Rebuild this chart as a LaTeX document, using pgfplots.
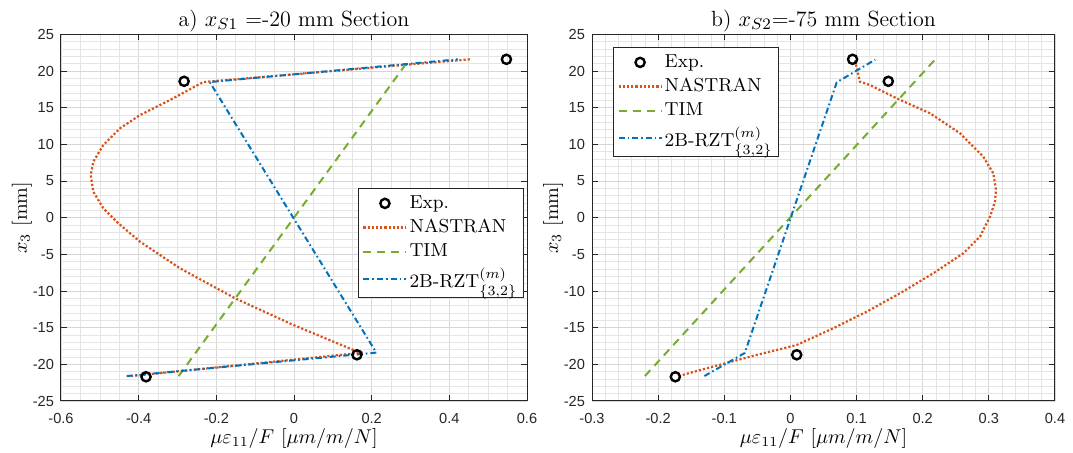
\documentclass[border=0pt]{standalone}
\usepackage{fontspec}
\usepackage{pgfplots}
\pgfplotsset{compat=1.18}
\newfontfamily\ticksf{Liberation Sans}
\definecolor{mblue}{rgb}{0,0.447,0.741}
\definecolor{morange}{rgb}{0.85,0.325,0.098}
\definecolor{mgreen}{rgb}{0.466,0.674,0.188}
\definecolor{axgray}{rgb}{0.15,0.15,0.15}
\pgfplotsset{
  mystyle/.style={
    scale only axis, height=183.3pt,
    ymin=-25, ymax=25, ytick={-25,-20,-15,-10,-5,0,5,10,15,20,25},
    minor y tick num=4,
    grid=both,
    major grid style={line width=0.4pt, color=black!16},
    minor grid style={line width=0.3pt, color=black!10},
    axis line style={axgray, line width=0.5pt},
    tick style={axgray, line width=0.5pt},
    major tick length=3pt, minor tick length=0pt,
    tick align=inside,
    tick label style={font=\fontsize{7.3}{8}\ticksf, text=axgray},
    xticklabel style={yshift=-2.5pt},
    /pgf/number format/assume math mode=true,
    /pgf/number format/fixed,
    every axis title/.style={font=\fontsize{11}{13}\selectfont, at={(axis description cs:0.5,1)}, anchor=base, yshift=4pt},
    label style={font=\fontsize{10}{12}\selectfont},
    every axis x label/.style={at={(axis description cs:0.5,0)}, anchor=base, yshift=-21.5pt},
    xlabel={$\mu\varepsilon_{11}/F\ [\mu m/m/N]$},
    ylabel={$x_3$ [mm]},
    legend cell align=left,
    legend style={draw=axgray, line width=0.5pt, font=\fontsize{9.4}{11}\selectfont,
      inner xsep=2pt, inner ysep=1.5pt, row sep=0pt, nodes={inner xsep=1pt}},
  },
  nas/.style={color=morange, line width=1.1pt, dash pattern=on 1.1pt off 1pt,
    legend image code/.code={\draw[##1, color=morange] (0pt,0pt) -- (21.5pt,0pt);}},
  tim/.style={color=mgreen, line width=1pt, dash pattern=on 4pt off 3pt,
    legend image code/.code={\draw[##1] (0pt,0pt) -- (21.5pt,0pt);}},
  rzt/.style={color=mblue, line width=1pt, dash pattern=on 3pt off 1.5pt on 0.8pt off 1.5pt,
    legend image code/.code={\draw[##1] (0pt,0pt) -- (21.5pt,0pt);}},
  expm/.style={only marks, mark=o, mark size=2.3pt, black, line width=1.2pt,
    legend image code/.code={\draw[##1] plot coordinates {(10.75pt,0pt)};}},
}
\begin{document}
\begin{tikzpicture}
\useasboundingbox (0,0) rectangle (536.5pt,226.5pt);
\begin{axis}[mystyle, at={(30.5pt,26pt)}, anchor=south west, width=233pt,
  xmin=-0.6, xmax=0.6, xtick={-0.6,-0.4,-0.2,0,0.2,0.4,0.6}, minor x tick num=3,
  title={a) $x_{S1}$ =-20 mm Section},
  ylabel style={at={(axis description cs:-0.0837,0.5)}, anchor=center},
  legend style={at={(axis description cs:0.637,0.581)}, anchor=north west}]
\addplot[expm] coordinates {(0.547,21.6) (-0.283,18.6) (0.162,-18.7) (-0.381,-21.7)};
\addlegendentry{Exp.}
\addplot[nas] coordinates {
(-0.42,-21.6) (0.1785,-18.4) (0.1528,-18.04) (-0.0017,-14.63) (-0.1519,-10.99)
(-0.2936,-6.9) (-0.3966,-3.27) (-0.4524,-0.76) (-0.491,1.28) (-0.5168,3.55)
(-0.5235,5.82) (-0.5168,7.64) (-0.491,9.91) (-0.448,12.19) (-0.3966,14.0)
(-0.3193,16.05) (-0.2335,18.5) (0.453,21.6)};
\addlegendentry{NASTRAN}
\addplot[tim] coordinates {(-0.297,-21.6) (0.297,21.6)};
\addlegendentry{TIM}
\addplot[rzt] coordinates {(-0.431,-21.6) (0.212,-18.4) (-0.217,18.5) (0.422,21.6)};
\addlegendentry{2B-RZT$^{(m)}_{\{3,2\}}$}
\end{axis}
\begin{axis}[mystyle, at={(296pt,26pt)}, anchor=south west, width=231.5pt,
  xmin=-0.3, xmax=0.4, xtick={-0.3,-0.2,-0.1,0,0.1,0.2,0.3,0.4}, minor x tick num=4,
  title={b) $x_{S2}$=-75 mm Section},
  ylabel style={at={(axis description cs:-0.0842,0.5)}, anchor=center},
  legend style={at={(axis description cs:0.0454,0.9656)}, anchor=north west}]
\addplot[expm] coordinates {(0.094,21.6) (0.148,18.6) (0.0095,-18.7) (-0.174,-21.7)};
\addlegendentry{Exp.}
\addplot[nas] coordinates {
(-0.169,-21.6) (-0.1266,-20.54) (-0.051,-18.72) (0.0095,-17.36) (0.0648,-15.08)
(0.1153,-12.82) (0.1657,-10.31) (0.216,-7.58) (0.2614,-4.85) (0.2866,-2.59)
(0.3018,0.14) (0.3093,2.18) (0.3108,3.78) (0.3068,6.05) (0.2916,8.32)
(0.2564,11.51) (0.211,14.24) (0.1607,16.28) (0.1201,18.1) (0.105,18.55) (0.0976,21.5)};
\addlegendentry{NASTRAN}
\addplot[tim] coordinates {(-0.22,-21.6) (0.219,21.6)};
\addlegendentry{TIM}
\addplot[rzt] coordinates {(-0.13,-21.6) (-0.069,-18.45) (0.070,18.46) (0.128,21.55)};
\addlegendentry{2B-RZT$^{(m)}_{\{3,2\}}$}
\end{axis}
\end{tikzpicture}
\end{document}
